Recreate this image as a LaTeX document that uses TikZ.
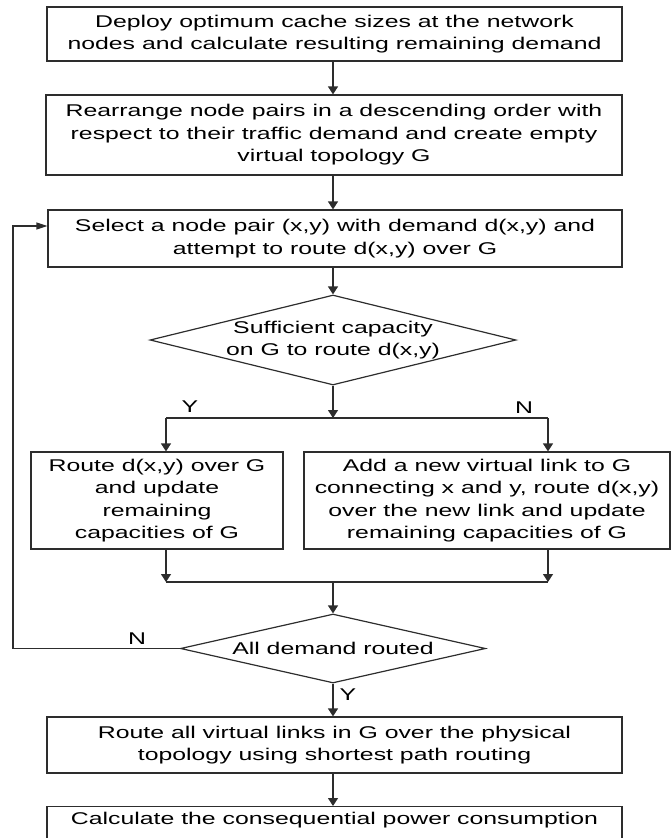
\documentclass[tikz,border=0pt]{standalone}
\usepackage{fontspec}
\setmainfont{Liberation Sans}[FakeStretch=1.46]
\usetikzlibrary{arrows.meta,shapes.geometric}
\definecolor{ink}{RGB}{45,45,45}
\begin{document}
\begin{tikzpicture}[x=1pt,y=-1pt,
  every node/.style={font=\fontsize{17}{22.5}\selectfont, text=black},
  box/.style={draw=ink, line width=1.2pt, rectangle, inner sep=0pt, align=center},
  decision/.style={diamond, draw=ink, line width=1.2pt, inner sep=0pt},
  link/.style={draw=ink, line width=1.2pt},
  vtip/.style={link, -{Triangle[length=8pt,width=10pt]}},
  htip/.style={link, -{Triangle[length=11pt,width=7pt]}},
  tag/.style={inner sep=0pt}]
\clip (0,0) rectangle (671,838);

% process steps
\node[box, minimum width=575, minimum height=54] (b1) at (334.5,34)
  {Deploy optimum cache sizes at the network\\nodes and calculate resulting remaining demand};
\node[box, minimum width=576, minimum height=80] (b2) at (334,135)
  {Rearrange node pairs in a descending order with\\respect to their traffic demand and create empty\\virtual topology G};
\node[box, minimum width=574, minimum height=57] (b3) at (335,238.5)
  {Select a node pair (x,y) with demand d(x,y) and\\attempt to route d(x,y) over G};

% capacity test
\node[decision, minimum width=366, minimum height=90] (d1) at (333,340) {};
\node[align=center] (d1t) at (d1.center) {Sufficient capacity\\on G to route d(x,y)};

% the two outcomes
\node[box, minimum width=252, minimum height=97] (b4) at (157,500.5)
  {Route d(x,y) over G\\and update\\remaining\\capacities of G};
\node[box, minimum width=366, minimum height=97] (b5) at (487,500.5)
  {Add a new virtual link to G\\connecting x and y, route d(x,y)\\over the new link and update\\remaining capacities of G};

% completion test
\node[decision, minimum width=305, minimum height=69] (d2) at (333,648.5) {};
\node (d2t) at (d2.center) {All demand routed};

\node[box, minimum width=575, minimum height=56] (b6) at (334.5,745)
  {Route all virtual links in G over the physical\\topology using shortest path routing};
\node[box, minimum width=575, minimum height=56, anchor=north] (b7) at (334.5,806) {};
\node (b7t) at (334.5,820) {Calculate the consequential power consumption};

% branch and junction points
\coordinate (split) at (333,418);
\coordinate (ysplit) at (166,418);
\coordinate (nsplit) at (548,418);
\coordinate (join) at (333,582);
\coordinate (yjoin) at (166,582);
\coordinate (njoin) at (548,582);
\coordinate (loopdn) at (13,648.5);
\coordinate (loopup) at (13,226);

% connectors
\draw[vtip] (b1.south -| d1.north) -- (b2.north -| d1.north);
\draw[vtip] (b2.south -| d1.north) -- (b3.north -| d1.north);
\draw[vtip] (b3.south -| d1.north) -- (d1.north);
\draw[vtip] (d1.south) -- (split);
\draw[link] (ysplit) -- (nsplit);
\draw[vtip] (ysplit) -- (ysplit |- b4.north);
\draw[vtip] (nsplit) -- (nsplit |- b5.north);
\draw[vtip] (ysplit |- b4.south) -- (yjoin);
\draw[vtip] (nsplit |- b5.south) -- (njoin);
\draw[link] (yjoin) -- (njoin);
\draw[vtip] (join) -- (d2.north);
\draw[vtip] (d2.south) -- (b6.north -| d2.south);
\draw[vtip] (b6.south -| d2.south) -- (b7.north -| d2.south);
\draw[htip] (d2.west) -- (loopdn) -- (loopup) -- (loopup -| b3.west);

% branch labels
\node[tag] (ylab1) at (190,407) {Y};
\node[tag] (nlab1) at (524,408) {N};
\node[tag] (nlab2) at (137,639) {N};
\node[tag] (ylab2) at (348,695) {Y};
\end{tikzpicture}
\end{document}
